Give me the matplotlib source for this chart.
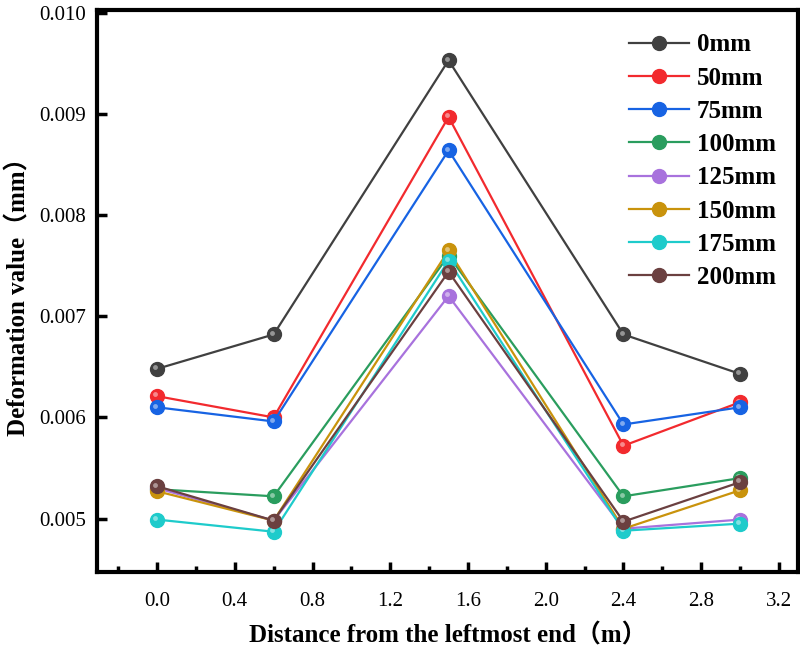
import matplotlib
matplotlib.use('Agg')
import matplotlib.pyplot as plt
from matplotlib.ticker import MultipleLocator
from matplotlib.transforms import ScaledTranslation

# positions along the beam (m)
distance = [0.0, 0.6, 1.5, 2.4, 3.0]

labels = ['0mm', '50mm', '75mm', '100mm', '125mm', '150mm', '175mm', '200mm']
colors = ['#404040', '#f22a2e', '#1763e3', '#2a9d5e', '#a872dd', '#c9930c', '#1ecbcb', '#6b4040']

d_0 = [0.00648, 0.00682, 0.00953, 0.00682, 0.00643]
d_50 = [0.00621, 0.00600, 0.00897, 0.00572, 0.00615]
d_75 = [0.00610, 0.00596, 0.00864, 0.00593, 0.00610]
d_100 = [0.00529, 0.00522, 0.00760, 0.00522, 0.00540]
d_125 = [0.00530, 0.00498, 0.00720, 0.00490, 0.00499]
d_150 = [0.00527, 0.00498, 0.00765, 0.00490, 0.00528]
d_175 = [0.00499, 0.00487, 0.00755, 0.00488, 0.00495]
d_200 = [0.00532, 0.00498, 0.00744, 0.00497, 0.00536]
series = [d_0, d_50, d_75, d_100, d_125, d_150, d_175, d_200]

serif = ['Liberation Serif', 'Noto Sans CJK SC']
plt.rcParams['font.family'] = serif

fig = plt.figure(figsize=(8, 6.48), dpi=100)
ax = fig.add_axes([0.121, 0.117, 0.877, 0.868])

# small highlight so the markers look a bit like the shaded balls
shine = ax.transData + ScaledTranslation(-1.2 / 72, 1.2 / 72, fig.dpi_scale_trans)

for vals, lab, c in zip(series, labels, colors):
    ax.plot(distance, vals, color=c, lw=1.6, marker='o', ms=10, mec=c, mfc=c, label=lab)
    ax.plot(distance, vals, ls='none', marker='o', ms=3.5, mfc='white', mec='none',
            alpha=0.45, transform=shine)

ax.set_xlim(-0.31, 3.30)
ax.set_ylim(0.00447, 0.01003)
ax.xaxis.set_major_locator(MultipleLocator(0.4))
ax.xaxis.set_minor_locator(MultipleLocator(0.2))
ax.yaxis.set_major_locator(MultipleLocator(0.001))
ax.xaxis.set_major_formatter(plt.FormatStrFormatter('%.1f'))
ax.yaxis.set_major_formatter(plt.FormatStrFormatter('%.3f'))

for s in ax.spines.values():
    s.set_linewidth(3)
ax.tick_params(which='major', direction='in', length=7, width=2.5, labelsize=15, pad=8)
ax.tick_params(which='minor', direction='in', length=4, width=2.5)
ax.tick_params(axis='x', pad=14)

ax.set_xlabel('Distance from the leftmost end（m）', fontsize=18, fontweight='bold', labelpad=9)
ax.set_ylabel('Deformation value（mm）', fontsize=18, fontweight='bold', labelpad=6)

leg = ax.legend(loc='upper right', frameon=False, prop={'weight': 'bold', 'size': 18},
                handlelength=2.4, handletextpad=0.3, labelspacing=0.41,
                bbox_to_anchor=(1.0, 0.998))

fig.savefig('out.png', dpi=100)
